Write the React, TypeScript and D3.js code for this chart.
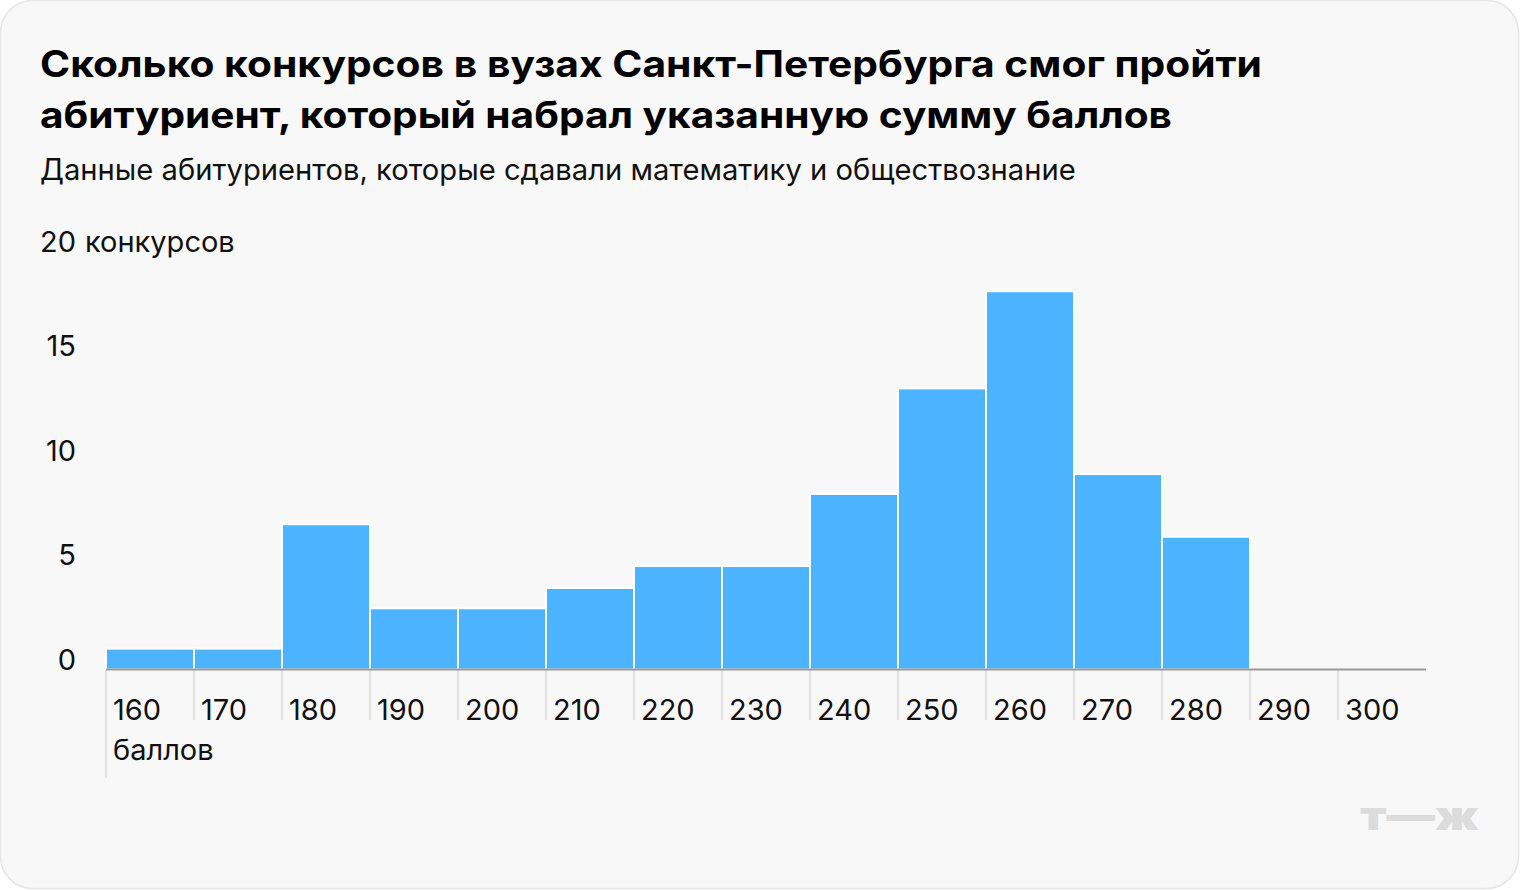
import React from "react";
import * as d3 from "d3";

const binStarts = [160, 170, 180, 190, 200, 210, 220, 230, 240, 250, 260, 270, 280, 290, 300];
const contests = [1, 1, 6.95, 2.93, 2.93, 3.9, 4.95, 4.95, 8.4, 13.45, 18.1, 9.35, 6.35, 0, 0];
const xTicks = [160, 170, 180, 190, 200, 210, 220, 230, 240, 250, 260, 270, 280, 290, 300];
const yTicks = [0, 5, 10, 15, 20];
const titleLines = [
  "Сколько конкурсов в вузах Санкт-Петербурга смог пройти",
  "абитуриент, который набрал указанную сумму баллов",
];
const titleWidths = [1222, 1132];
const subtitle = "Данные абитуриентов, которые сдавали математику и обществознание";
const yUnit = "конкурсов";
const xUnit = "баллов";

const W = 1520;
const H = 890;
const FONT = "Inter, Roboto, 'Noto Sans', sans-serif";

export default function App() {
  const x = d3.scaleLinear().domain([160, 310]).range([106, 1426]);
  const y = d3.scaleLinear().domain([0, 20]).range([669.5, 251.5]);
  const binW = 10;

  return (
    <svg
      width={W}
      height={H}
      viewBox={`0 0 ${W} ${H}`}
      style={{ position: "absolute", left: 0, top: 0, background: "#fff" }}
      fontFamily={FONT}
    >
      <rect x={0.5} y={0.5} width={W - 2} height={H - 2} rx={32} ry={32} fill="#f8f8f8" stroke="#e6e6e6" strokeWidth={1.5} />

      {titleLines.map((t, i) => (
        <text
          key={i}
          x={40}
          y={77 + i * 51}
          fontSize={36.5}
          fontWeight={700}
          fill="#000"
          textLength={titleWidths[i]}
          lengthAdjust="spacingAndGlyphs"
        >
          {t}
        </text>
      ))}
      <text x={40} y={180} fontSize={29.2} fill="#111">
        {subtitle}
      </text>

      {/* y tick labels */}
      {yTicks.map((t) => (
        <text key={t} x={76} y={y(t)} fontSize={29} fill="#111" textAnchor="end">
          {t}
        </text>
      ))}
      <text x={85} y={y(20)} fontSize={29} fill="#111">
        {yUnit}
      </text>

      {/* bars */}
      {binStarts.map((b, i) =>
        contests[i] > 0 ? (
          <rect
            key={b}
            x={x(b)}
            y={y(contests[i])}
            width={x(b + binW) - x(b)}
            height={y(0) - y(contests[i])}
            fill="#4cb3ff"
            stroke="#ffffff"
            strokeWidth={2}
          />
        ) : null
      )}

      {/* x ticks */}
      {xTicks.map((t, i) => (
        <g key={t}>
          <line x1={x(t)} x2={x(t)} y1={670} y2={i === 0 ? 778 : 720} stroke="#e2e2e2" strokeWidth={2} />
          <text x={x(t) + 7} y={720} fontSize={29} fill="#111">
            {t}
          </text>
        </g>
      ))}
      <text x={x(160) + 7} y={760} fontSize={29} fill="#111">
        {xUnit}
      </text>

      {/* axis line */}
      <line x1={x(160)} x2={x(310)} y1={y(0)} y2={y(0)} stroke="#999" strokeWidth={2} />

      {/* logo */}
      <text
        x={1360}
        y={830}
        fontSize={40}
        fontWeight={900}
        fill="#dcdcdc"
        textLength={119}
        lengthAdjust="spacingAndGlyphs"
      >
        т—ж
      </text>
    </svg>
  );
}
